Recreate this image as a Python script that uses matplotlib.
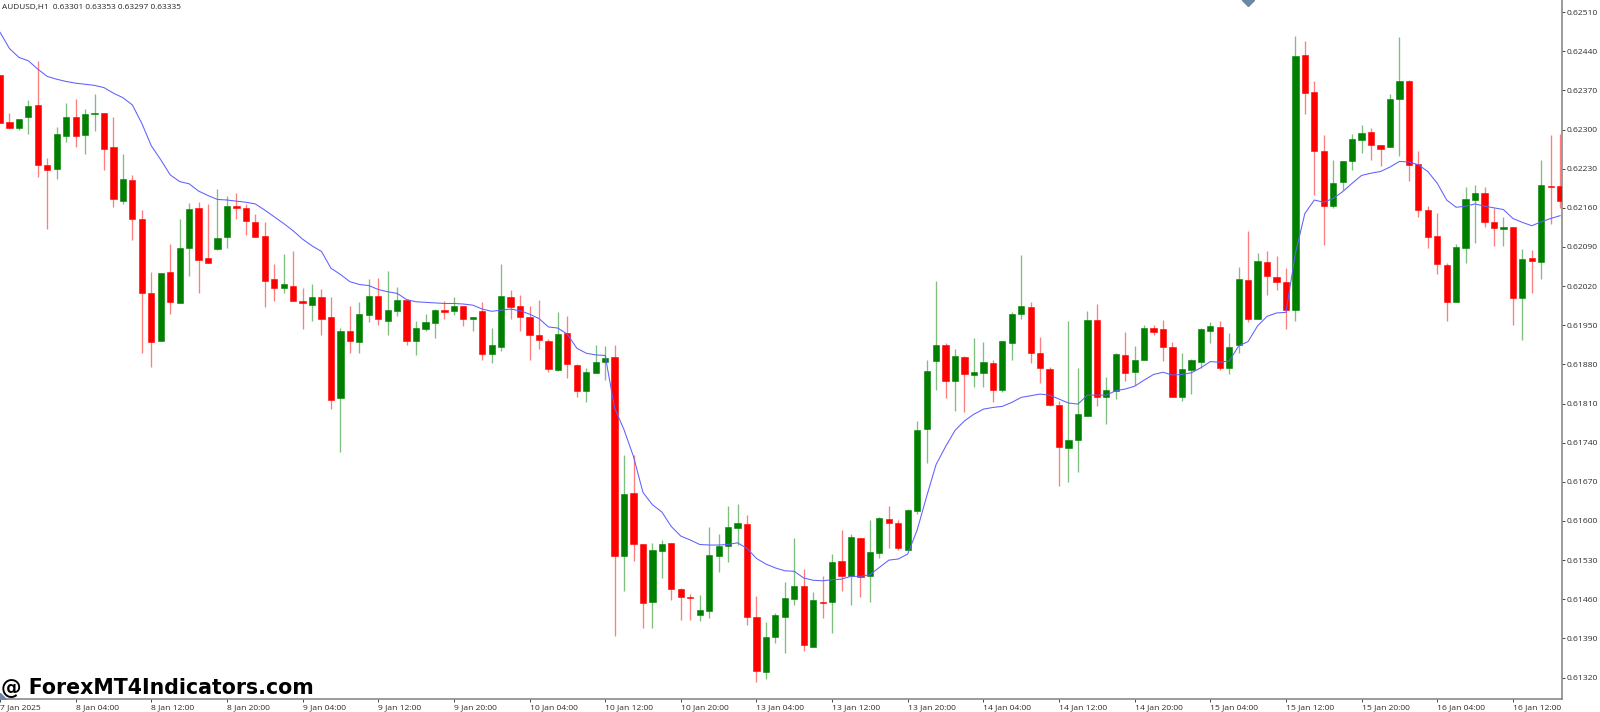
import matplotlib; matplotlib.use('Agg')
import matplotlib.pyplot as plt
import numpy as np

# prices in points (1e-5)
open_pts = [
    62398, 62314, 62302, 62323, 62344, 62237, 62230, 62289, 62323, 62290,
    62328, 62329, 62268, 62173, 62209, 62140, 62007, 61921, 62045, 61989,
    62088, 62159, 62070, 62086, 62107, 62163, 62160, 62135, 62110, 62032,
    62016, 62021, 61994, 61987, 62000, 61964, 61820, 61940, 61920, 61969,
    62003, 61958, 61976, 61996, 61922, 61943, 61954, 61977, 61976, 61984,
    61961, 61976, 61899, 61912, 62000, 61985, 61964, 61933, 61922, 61870,
    61936, 61879, 61832, 61865, 61885, 61893, 61538, 61650, 61558, 61455,
    61546, 61560, 61478, 61464, 61432, 61439, 61538, 61555, 61588, 61594,
    61429, 61330, 61392, 61429, 61461, 61484, 61375, 61456, 61456, 61529,
    61501, 61569, 61501, 61542, 61604, 61597, 61548, 61617, 61765, 61886,
    61915, 61851, 61894, 61861, 61864, 61883, 61835, 61919, 61970, 61983,
    61901, 61872, 61808, 61731, 61745, 61788, 61960, 61821, 61832, 61897,
    61866, 61888, 61946, 61943, 61911, 61822, 61870, 61885, 61940, 61947,
    61874, 61914, 62031, 61961, 62064, 62037, 62028, 61977, 62433, 62367,
    62261, 62163, 62206, 62243, 62282, 62295, 62272, 62268, 62355, 62387,
    62238, 62156, 62109, 62058, 61992, 62088, 62174, 62187, 62134, 62123,
    62126, 61999, 62070, 62064, 62199, 62199,
]
close_pts = [
    62312, 62303, 62318, 62342, 62236, 62228, 62292, 62323, 62289, 62328,
    62329, 62266, 62175, 62211, 62140, 62007, 61920, 62044, 61992, 62088,
    62158, 62067, 62062, 62106, 62163, 62160, 62137, 62107, 62029, 62016,
    62023, 61994, 61989, 62001, 61961, 61817, 61940, 61921, 61971, 62002,
    61961, 61977, 61995, 61921, 61946, 61955, 61977, 61974, 61985, 61961,
    61964, 61898, 61914, 62002, 61983, 61964, 61933, 61923, 61871, 61934,
    61880, 61832, 61867, 61884, 61892, 61538, 61649, 61559, 61453, 61548,
    61559, 61478, 61464, 61462, 61441, 61539, 61555, 61590, 61596, 61429,
    61332, 61393, 61431, 61463, 61483, 61378, 61458, 61454, 61526, 61501,
    61571, 61499, 61544, 61605, 61597, 61551, 61619, 61763, 61869, 61914,
    61850, 61895, 61862, 61867, 61884, 61834, 61922, 61970, 61984, 61901,
    61873, 61808, 61733, 61744, 61791, 61959, 61822, 61834, 61898, 61865,
    61888, 61946, 61938, 61911, 61822, 61872, 61887, 61943, 61949, 61873,
    61911, 62032, 61961, 62065, 62038, 62028, 61977, 62432, 62366, 62261,
    62163, 62205, 62243, 62284, 62294, 62272, 62266, 62355, 62386, 62236,
    62157, 62108, 62059, 61992, 62090, 62175, 62186, 62134, 62124, 62126,
    61998, 62069, 62065, 62201, 62197, 62173,
]
high_pts = [
    62398, 62330, 62318, 62352, 62423, 62249, 62305, 62348, 62354, 62336,
    62364, 62329, 62323, 62256, 62219, 62156, 62045, 62044, 62096, 62140,
    62169, 62171, 62166, 62194, 62182, 62187, 62167, 62149, 62134, 62060,
    62078, 62083, 62017, 62023, 62015, 62000, 61946, 61985, 61991, 62033,
    62035, 62047, 62019, 61996, 61958, 61970, 61979, 61994, 62000, 61984,
    61964, 61992, 61945, 62060, 62013, 62005, 61985, 61996, 61926, 61974,
    61966, 61880, 61874, 61915, 61913, 61915, 61718, 61718, 61558, 61561,
    61566, 61560, 61480, 61470, 61468, 61589, 61576, 61627, 61630, 61611,
    61465, 61420, 61435, 61490, 61570, 61515, 61473, 61502, 61541, 61584,
    61576, 61569, 61601, 61607, 61626, 61601, 61621, 61778, 61887, 62029,
    61918, 61907, 61895, 61928, 61920, 61888, 61922, 61974, 62075, 61992,
    61929, 61876, 61814, 61958, 61874, 61976, 61988, 61858, 61900, 61938,
    61913, 61951, 61951, 61960, 61920, 61900, 61890, 61946, 61956, 61958,
    61936, 62054, 62118, 62079, 62082, 62074, 62052, 62467, 62458, 62386,
    62290, 62246, 62243, 62292, 62308, 62302, 62272, 62364, 62465, 62388,
    62261, 62163, 62150, 62062, 62096, 62197, 62201, 62197, 62159, 62144,
    62126, 62087, 62085, 62246, 62290, 62292,
]
low_pts = [
    62311, 62303, 62300, 62292, 62216, 62122, 62212, 62277, 62268, 62256,
    62298, 62227, 62162, 62166, 62103, 61900, 61876, 61921, 61971, 61989,
    62038, 62008, 62062, 62085, 62089, 62140, 62111, 62107, 61983, 61993,
    62007, 61994, 61944, 61958, 61932, 61800, 61724, 61900, 61900, 61955,
    61951, 61932, 61967, 61915, 61897, 61940, 61928, 61961, 61968, 61948,
    61939, 61888, 61883, 61904, 61961, 61939, 61888, 61908, 61867, 61868,
    61855, 61822, 61813, 61865, 61852, 61395, 61474, 61529, 61409, 61409,
    61498, 61459, 61423, 61423, 61421, 61427, 61508, 61526, 61557, 61414,
    61312, 61318, 61381, 61364, 61449, 61367, 61375, 61427, 61400, 61474,
    61449, 61464, 61456, 61534, 61552, 61548, 61548, 61613, 61703, 61834,
    61820, 61796, 61795, 61839, 61839, 61813, 61830, 61888, 61962, 61883,
    61847, 61806, 61663, 61670, 61687, 61788, 61805, 61773, 61819, 61851,
    61843, 61888, 61933, 61886, 61822, 61814, 61827, 61873, 61919, 61870,
    61863, 61900, 61956, 61961, 62004, 62013, 61944, 61957, 62328, 62183,
    62093, 62160, 62192, 62228, 62258, 62246, 62234, 62268, 62253, 62208,
    62143, 62088, 62042, 61957, 61992, 62062, 62098, 62126, 62092, 62092,
    61951, 61923, 62007, 62032, 62132, 62159,
]
ma_pts = [
    62474, 62445, 62429, 62423, 62408, 62395, 62390, 62386, 62383, 62381,
    62379, 62375, 62365, 62357, 62344, 62311, 62271, 62246, 62219, 62207,
    62203, 62190, 62182, 62175, 62174, 62172, 62170, 62167, 62156, 62144,
    62132, 62119, 62104, 62092, 62082, 62052, 62041, 62028, 62023, 62021,
    62014, 62010, 62007, 61996, 61992, 61991, 61990, 61989, 61989, 61988,
    61986, 61979, 61975, 61977, 61979, 61976, 61970, 61962, 61947, 61945,
    61934, 61909, 61900, 61897, 61896, 61802, 61763, 61715, 61651, 61629,
    61616, 61590, 61573, 61566, 61558, 61557, 61557, 61558, 61561, 61551,
    61533, 61523, 61516, 61511, 61510, 61498, 61494, 61493, 61495, 61496,
    61501, 61501, 61504, 61517, 61530, 61532, 61541, 61584, 61644, 61701,
    61733, 61762, 61779, 61791, 61800, 61803, 61805, 61812, 61821, 61824,
    61827, 61825, 61818, 61811, 61809, 61825, 61825, 61825, 61833, 61836,
    61841, 61852, 61862, 61866, 61861, 61862, 61865, 61874, 61885, 61884,
    61886, 61913, 61921, 61949, 61966, 61972, 61973, 62079, 62150, 62174,
    62170, 62177, 62189, 62204, 62218, 62222, 62225, 62233, 62243, 62242,
    62237, 62225, 62204, 62174, 62161, 62163, 62167, 62163, 62160, 62157,
    62141, 62134, 62128, 62135, 62141, 62146,
]
time_labels = ['7 Jan 2025', '8 Jan 04:00', '8 Jan 12:00', '8 Jan 20:00', '9 Jan 04:00',
               '9 Jan 12:00', '9 Jan 20:00', '10 Jan 04:00', '10 Jan 12:00', '10 Jan 20:00',
               '13 Jan 04:00', '13 Jan 12:00', '13 Jan 20:00', '14 Jan 04:00', '14 Jan 12:00',
               '14 Jan 20:00', '15 Jan 04:00', '15 Jan 12:00', '15 Jan 20:00', '16 Jan 04:00',
               '16 Jan 12:00']
price_ticks = [61320, 61390, 61460, 61530, 61600, 61670, 61740, 61810, 61880,
               61950, 62020, 62090, 62160, 62230, 62300, 62370, 62440, 62510]
header = 'AUDUSD,H1  0.63301 0.63353 0.63297 0.63335'
watermark = '@ ForexMT4Indicators.com'

RED, GREEN = '#ff0000', '#008000'
TXT = '#2e2e2e'

o, c = np.array(open_pts) / 1e5, np.array(close_pts) / 1e5
h, l = np.array(high_pts) / 1e5, np.array(low_pts) / 1e5
ma = np.array(ma_pts) / 1e5
x = np.arange(len(o))
colors = [GREEN if cc >= oo else RED for oo, cc in zip(o, c)]

fig = plt.figure(figsize=(16, 7.12), dpi=100)
ax = fig.add_axes([0, 1 - 699.3 / 712, 1561.5 / 1600, 699.3 / 712])

ax.vlines(x, l, h, colors=colors, lw=0.95, alpha=0.5, zorder=2)
bottom = np.minimum(o, c)
height = np.maximum(np.abs(c - o), 0.00002)
ax.bar(x, height, 0.66, bottom=bottom, color=colors, edgecolor=colors, lw=0.4, zorder=3)
ax.plot(x, ma, color='#5f5fff', lw=0.75, zorder=4)

ax.set_xlim(0.042, 165.14)
ax.set_ylim(0.612811, 0.625317)

# ── axes ──
ax.spines['top'].set_visible(False)
ax.spines['left'].set_visible(False)
for side in ('right', 'bottom'):
    ax.spines[side].set_color('#808080')
    ax.spines[side].set_linewidth(1.1)
ax.yaxis.tick_right()
ax.set_yticks(np.array(price_ticks) / 1e5)
ax.set_yticklabels([f'{p / 1e5:.5f}' for p in price_ticks], fontsize=6.1, color=TXT,
                   family='Open Sans')
ax.tick_params(axis='y', length=2.2, width=0.7, color='#444444', pad=1.6)
ax.set_xticks(np.arange(len(time_labels)) * 8)
ax.set_xticklabels(time_labels, fontsize=6.1, color=TXT, family='Open Sans', ha='left')
ax.tick_params(axis='x', length=2.2, width=0.7, color='#444444', pad=1.2)

fig.text(2 / 1600, 1 - 7 / 712, header, fontsize=5.95, color='#222222', family='Open Sans',
         va='center', ha='left')
fig.text(1 / 1600, 1 - 688.5 / 712, watermark, fontsize=14.8, color='#000000', family='DejaVu Sans',
         fontweight='bold', va='center', ha='left', zorder=6)

# small markers at the chart edges
ax.plot([1248 / 1561.5], [1.0], marker='D', ms=6.5, color='#6f87a6', transform=ax.transAxes,
        clip_on=True, zorder=5)
ax.plot([0.0], [0.0], marker='D', ms=6, color='#6f87a6', transform=ax.transAxes,
        clip_on=True, zorder=5)

fig.savefig('out.png', dpi=100)
